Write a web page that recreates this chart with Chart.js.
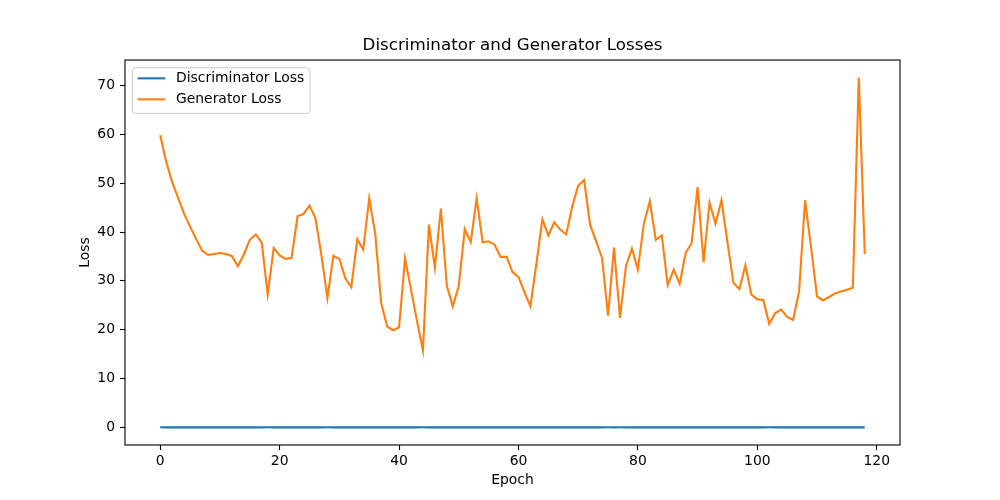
<!DOCTYPE html>
<html>
<head>
<meta charset="utf-8">
<title>Discriminator and Generator Losses</title>
<script src="https://cdn.jsdelivr.net/npm/chart.js@4"></script>
<style>
    html, body { margin: 0; padding: 0; background: #fff; }
    .chart-box { width: 1000px; height: 500px; position: relative; }
</style>
</head>
<body>
<div class="chart-box"><canvas id="lossChart"></canvas></div>
<script>
const epochs = Array.from({ length: 119 }, (_, i) => i);

const generatorLoss = [
    59.8, 54.4, 50.2, 47.0, 43.7, 41.1, 38.6, 36.2, 35.3, 35.5,
    35.7, 35.5, 35.1, 33.0, 35.4, 38.4, 39.5, 37.8, 27.2, 36.7,
    35.2, 34.5, 34.7, 43.2, 43.7, 45.4, 42.8, 35.2, 26.5, 35.1,
    34.5, 30.5, 28.7, 38.5, 36.4, 46.9, 39.8, 25.5, 20.7, 19.9,
    20.5, 34.6, 28.2, 21.8, 15.7, 41.5, 32.7, 44.8, 29.0, 24.8,
    29.0, 40.6, 37.9, 46.9, 37.9, 38.1, 37.4, 34.9, 34.9, 31.8,
    30.8, 27.7, 24.8, 33.5, 42.6, 39.3, 42.0, 40.5, 39.5, 45.2,
    49.5, 50.6, 41.5, 38.1, 34.7, 22.9, 36.8, 22.4, 33.0, 36.6,
    32.3, 41.7, 46.3, 38.4, 39.3, 29.1, 32.3, 29.4, 35.7, 37.7,
    49.2, 33.8, 46.0, 41.7, 46.5, 37.9, 29.6, 28.3, 33.2, 27.2,
    26.2, 26.1, 21.2, 23.4, 24.1, 22.6, 22.0, 27.9, 46.5, 36.9,
    26.8, 26.0, 26.7, 27.4, 27.8, 28.2, 28.6, 71.6, 35.5
];

const discriminatorLoss = [
    0.02, 0.01, 0.01, 0.01, 0.01, 0.01, 0.01, 0.01, 0.01, 0.01,
    0.01, 0.01, 0.01, 0.01, 0.01, 0.01, 0.01, 0.01, 0.02, 0.01,
    0.01, 0.01, 0.01, 0.01, 0.01, 0.01, 0.01, 0.01, 0.02, 0.01,
    0.01, 0.01, 0.01, 0.01, 0.01, 0.01, 0.01, 0.01, 0.01, 0.01,
    0.01, 0.01, 0.01, 0.01, 0.02, 0.01, 0.01, 0.01, 0.01, 0.01,
    0.01, 0.01, 0.01, 0.01, 0.01, 0.01, 0.01, 0.01, 0.01, 0.01,
    0.01, 0.01, 0.01, 0.01, 0.01, 0.01, 0.01, 0.01, 0.01, 0.01,
    0.01, 0.01, 0.01, 0.01, 0.01, 0.02, 0.01, 0.02, 0.01, 0.01,
    0.01, 0.01, 0.01, 0.01, 0.01, 0.01, 0.01, 0.01, 0.01, 0.01,
    0.01, 0.01, 0.01, 0.01, 0.01, 0.01, 0.01, 0.01, 0.01, 0.01,
    0.01, 0.01, 0.02, 0.01, 0.01, 0.01, 0.01, 0.01, 0.01, 0.01,
    0.01, 0.01, 0.01, 0.01, 0.01, 0.01, 0.01, 0.01, 0.01
];

const xTicks = [0, 20, 40, 60, 80, 100, 120];
const yTicks = [0, 10, 20, 30, 40, 50, 60, 70];

const FONT = "'DejaVu Sans', sans-serif";

// matplotlib-like frame and legend box in the upper left of the plot area
const frameAndLegend = {
    id: 'frameAndLegend',
    afterDraw(chart) {
        const { ctx, chartArea: a } = chart;
        ctx.save();
        ctx.strokeStyle = '#000';
        ctx.lineWidth = 1.1;
        ctx.strokeRect(a.left, a.top, a.right - a.left, a.bottom - a.top);

        const bx = a.left + 7.3, by = a.top + 7.7, bw = 177.7, bh = 45.6;
        ctx.beginPath();
        ctx.roundRect(bx, by, bw, bh, 3);
        ctx.fillStyle = 'rgba(255,255,255,0.8)';
        ctx.fill();
        ctx.strokeStyle = '#cccccc';
        ctx.lineWidth = 1;
        ctx.stroke();

        ctx.font = `13.9px ${FONT}`;
        ctx.textBaseline = 'middle';
        ctx.textAlign = 'left';
        chart.data.datasets.forEach((ds, i) => {
            const rowY = by + 10.6 + i * 21;
            ctx.beginPath();
            ctx.moveTo(bx + 5.4, rowY);
            ctx.lineTo(bx + 33, rowY);
            ctx.strokeStyle = ds.borderColor;
            ctx.lineWidth = 2.1;
            ctx.stroke();
            ctx.fillStyle = '#000';
            ctx.fillText(ds.label, bx + 43.7, rowY + 0.5);
        });
        ctx.restore();
    }
};

new Chart(document.getElementById('lossChart'), {
    type: 'line',
    data: {
        datasets: [{
            label: 'Discriminator Loss',
            data: epochs.map((e, i) => ({ x: e, y: discriminatorLoss[i] })),
            borderColor: '#1f77b4',
            borderWidth: 2.1,
            pointRadius: 0,
            tension: 0
        }, {
            label: 'Generator Loss',
            data: epochs.map((e, i) => ({ x: e, y: generatorLoss[i] })),
            borderColor: '#ff7f0e',
            borderWidth: 2.1,
            pointRadius: 0,
            tension: 0
        }]
    },
    options: {
        responsive: true,
        maintainAspectRatio: false,
        animation: false,
        layout: { padding: { left: 0, right: 100, top: 0, bottom: 0 } },
        scales: {
            x: {
                type: 'linear',
                min: -5.9,
                max: 123.9,
                afterBuildTicks: (scale) => { scale.ticks = xTicks.map(v => ({ value: v })); },
                afterFit: (scale) => { scale.height = 55; },
                grid: { drawOnChartArea: false, drawTicks: true, tickLength: 5, tickColor: '#000', tickWidth: 1.1 },
                border: { display: false },
                ticks: { color: '#000', font: { family: FONT, size: 13.9 }, padding: 3, maxRotation: 0 },
                title: { display: true, text: 'Epoch', color: '#000', font: { family: FONT, size: 13.9 }, padding: { top: 0, bottom: 11.7 } }
            },
            y: {
                type: 'linear',
                min: -3.6,
                max: 75.2,
                afterBuildTicks: (scale) => { scale.ticks = yTicks.map(v => ({ value: v })); },
                afterFit: (scale) => { scale.width = 125; },
                grid: { drawOnChartArea: false, drawTicks: true, tickLength: 5, tickColor: '#000', tickWidth: 1.1 },
                border: { display: false },
                ticks: { color: '#000', font: { family: FONT, size: 13.9 }, padding: 5 },
                title: { display: true, text: 'Loss', color: '#000', font: { family: FONT, size: 13.9 }, padding: { top: 76.7, bottom: 0 } }
            }
        },
        plugins: {
            legend: { display: false },
            tooltip: { enabled: false },
            title: {
                display: true,
                fullSize: false,
                text: 'Discriminator and Generator Losses',
                color: '#000',
                font: { family: FONT, size: 16.7, weight: 'normal' },
                padding: { top: 36, bottom: 4 }
            }
        }
    },
    plugins: [frameAndLegend]
});
</script>
</body>
</html>
